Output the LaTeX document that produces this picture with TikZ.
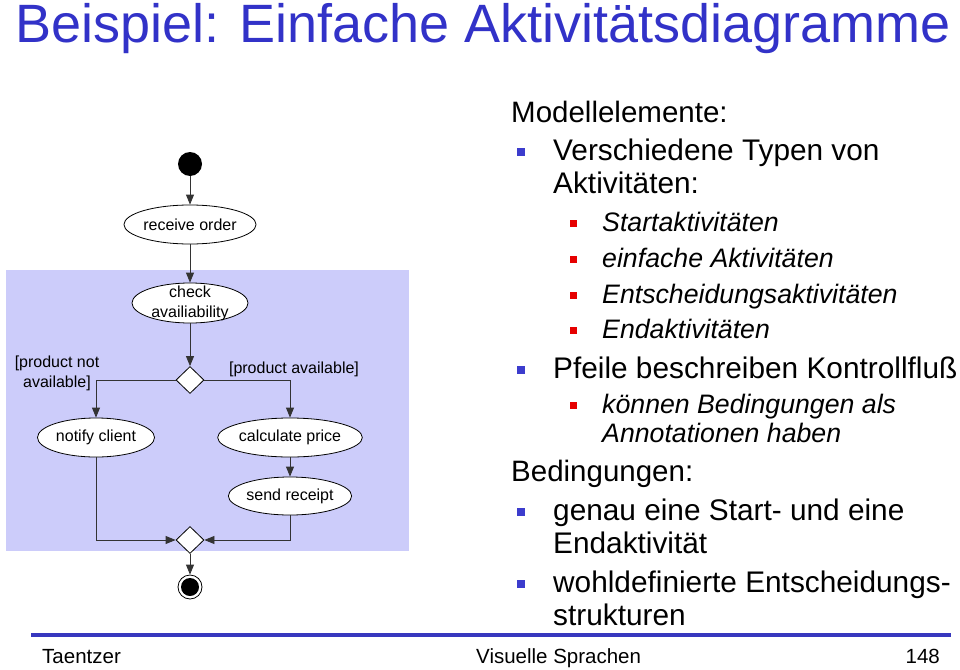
\documentclass[tikz,border=0pt]{standalone}
\usepackage{fontspec}
\setmainfont{Liberation Sans}
\usetikzlibrary{shapes.geometric,arrows.meta}
\definecolor{titleblue}{RGB}{50,50,200}
\definecolor{lavender}{RGB}{204,204,250}
\definecolor{bulred}{RGB}{230,0,0}
\definecolor{bulblue}{RGB}{60,60,205}
\definecolor{rulecol}{RGB}{55,55,190}
\tikzset{
  act/.style={ellipse, draw=black, fill=white, line width=0.8pt, minimum width=117pt, minimum height=39pt, inner sep=0pt, font=\fontsize{16}{19.5}\selectfont, align=center},
  dec/.style={diamond, draw=black, fill=white, line width=0.8pt, minimum width=28pt, minimum height=27pt, inner sep=0pt},
  flow/.style={draw=black!80, line width=0.8pt, -{Triangle[length=10pt,width=8pt]}},
  lab/.style={font=\fontsize{16}{20}\selectfont, align=center, inner sep=0pt},
  head/.style={anchor=base west, inner sep=0pt, font=\fontsize{29.5}{32}\selectfont},
  lone/.style={anchor=base west, inner sep=0pt, font=\fontsize{29.8}{32}\selectfont},
  ltwo/.style={anchor=base west, inner sep=0pt, font=\fontsize{26.7}{30}\selectfont\itshape},
  bb/.style={rectangle, fill=bulblue, minimum size=8pt, inner sep=0pt},
  rb/.style={rectangle, fill=bulred, minimum size=7pt, inner sep=0pt},
  foot/.style={inner sep=0pt, font=\fontsize{20.5}{24}\selectfont},
}
\begin{document}
\begin{tikzpicture}[x=1pt,y=-1pt]
\useasboundingbox (0,0) rectangle (960,669);
% title
\node[anchor=base west, inner sep=0pt, text=titleblue, font=\fontsize{54}{60}\selectfont] (title) at (15,43) {Beispiel: Einfache Aktivitätsdiagramme};
% swimlane background
\fill[lavender] (6,270) rectangle (409,551);
% diagram nodes
\node[circle, fill=black, minimum size=24pt, inner sep=0pt] (start) at (190,164) {};
\node[act] (recv) at (190,224.5) {receive order};
\node[act, minimum width=116pt, minimum height=40pt] (chk) at (190,303) {};
\node[lab] (chkT) at (190,303) {check\\availiability};
\node[dec] (d1) at (190,380) {};
\node[act] (notify) at (96,437.5) {notify client};
\node[act] (calc) at (290,437.5) {calculate price};
\node[act, minimum height=38pt] (send) at (290,496) {send receipt};
\node[dec] (m1) at (190,540) {};
\node[circle, draw=black, fill=white, line width=0.8pt, minimum size=24pt, inner sep=0pt] (end) at (190,587) {};
\node[circle, fill=black, minimum size=18pt, inner sep=0pt] (endIn) at (190,587) {};
\node[lab] (cnot) at (57,373) {[product not\\available]};
\node[lab] (cyes) at (294,369) {[product available]};
% connectors
\draw[flow] (start) -- (recv.north);
\draw[flow] (recv) -- (chk.north);
\draw[flow] (chk) -- (d1);
\draw[flow] (d1.west) -| (notify.north);
\draw[flow] (d1.east) -| (calc.north);
\draw[flow] (calc) -- (send);
\draw[flow] (notify.south) |- (m1.west);
\draw[flow] (send.south) |- (m1.east);
\draw[flow] (m1) -- (end);
% right text
\node[head] (h1) at (511,122) {Modellelemente:};
\node[bb] (b1) at (520.5,152) {};
\node[lone] (t1) at (553,160) {Verschiedene Typen von};
\node[lone] (t1b) at (553,193) {Aktivitäten:};
\node[rb] (r1) at (573.5,223) {};
\node[ltwo] (s1) at (602,231) {Startaktivitäten};
\node[rb] (r2) at (573.5,259) {};
\node[ltwo] (s2) at (602,267) {einfache Aktivitäten};
\node[rb] (r3) at (573.5,295) {};
\node[ltwo] (s3) at (602,303) {Entscheidungsaktivitäten};
\node[rb] (r4) at (573.5,330) {};
\node[ltwo] (s4) at (602,338) {Endaktivitäten};
\node[bb] (b2) at (520.5,370) {};
\node[lone] (t2) at (553,378) {Pfeile beschreiben Kontrollfluß};
\node[rb] (r5) at (573.5,405) {};
\node[ltwo] (s5) at (602,413) {können Bedingungen als};
\node[ltwo] (s5b) at (602,442) {Annotationen haben};
\node[head] (h2) at (511,481) {Bedingungen:};
\node[bb] (b3) at (520.5,512) {};
\node[lone] (t3) at (553,520) {genau eine Start- und eine};
\node[lone] (t3b) at (553,553) {Endaktivität};
\node[bb] (b4) at (520.5,584) {};
\node[lone] (t4) at (553,592) {wohldefinierte Entscheidungs-};
\node[lone] (t4b) at (553,625) {strukturen};
% footer
\draw[rulecol, line width=4pt] (31,635) -- (951,635);
\node[foot, anchor=base west] (f1) at (42,663) {Taentzer};
\node[foot, anchor=base west] (f2) at (476,663) {Visuelle Sprachen};
\node[foot, anchor=base east] (f3) at (940,663) {148};
\end{tikzpicture}
\end{document}
